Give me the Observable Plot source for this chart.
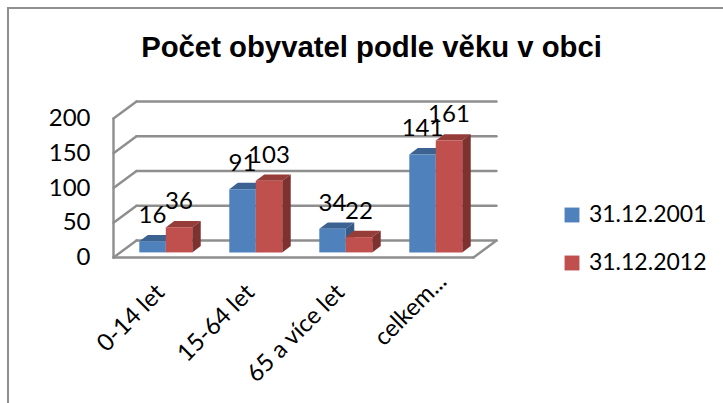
<!DOCTYPE html>
<html>
<head>
<meta charset="utf-8">
<script src="https://cdn.jsdelivr.net/npm/d3@7"></script>
<script src="https://cdn.jsdelivr.net/npm/@observablehq/plot@0.6"></script>
<style>
html,body{margin:0;padding:0;background:#fff;overflow:hidden}
#wrap{position:relative;width:723px;height:403px}
#edge{position:absolute;left:7px;top:7px;width:716px;height:396px;border-left:2px solid #8f8f8f;border-top:2px solid #8f8f8f;box-sizing:border-box}
#wrap svg{position:absolute;left:0;top:0;overflow:visible}
</style>
</head>
<body>
<div id="wrap"><div id="edge"></div></div>
<script>
const chartTitle = "Počet obyvatel podle věku v obci";
const categories = ["0-14 let", "15-64 let", "65 a více let", "celkem..."];
const seriesNames = ["31.12.2001", "31.12.2012"];
const values2001 = [16, 91, 34, 141];
const values2012 = [36, 103, 22, 161];
const yTicks = [0, 50, 100, 150, 200];
const colors = ["#4f81bd", "#c0504d"];
const topColors = ["#3b6291", "#963c39"];
const sideColors = ["#375a85", "#7d3230"];
const gridColor = "#8e8e8e";

// oblique projection, in data units: one unit of depth moves a point this far
const depthX = 23 / 90, depthY = 17 / 0.695;
const project = (c, v, d) => ({x: c + d * depthX, y: v + d * depthY});

const barDepthFront = 0.3, barDepthBack = 0.67;
const barLeft = 0.21, barWidth = 0.294;

const bars = [];
[values2001, values2012].forEach((vals, s) => vals.forEach((v, i) => {
  const x0 = i + barLeft + s * barWidth, x1 = x0 + barWidth;
  bars.push({i, s, v, x0, x1, mid: (x0 + x1) / 2 + barDepthFront * depthX});
}));

const poly = (id, color, pts) => pts.map(p => ({...p, id, color}));
const faces = bars.flatMap((b, k) => {
  const f = barDepthFront, g = barDepthBack;
  return [
    poly("top" + k, topColors[b.s], [project(b.x0, b.v, f), project(b.x1, b.v, f), project(b.x1, b.v, g), project(b.x0, b.v, g)]),
    poly("side" + k, sideColors[b.s], [project(b.x1, 0, f), project(b.x1, b.v, f), project(b.x1, b.v, g), project(b.x1, 0, g)]),
    poly("front" + k, colors[b.s], [project(b.x0, 0, f), project(b.x1, 0, f), project(b.x1, b.v, f), project(b.x0, b.v, f)])
  ];
}).flat();

const n = categories.length, yMax = d3.max(yTicks);
const segs = [];
const seg = (id, a, b) => { segs.push({...a, id}, {...b, id}); };
yTicks.forEach(t => {
  seg("back" + t, project(0, t, 1), project(n, t, 1));
  seg("diag" + t, project(0, t, 0), project(0, t, 1));
});
seg("axisY", project(0, 0, 0), project(0, yMax, 0));
seg("floorFront", project(0, 0, 0), project(n, 0, 0));
seg("floorRight", project(n, 0, 0), project(n, 0, 1));

const frameText = {fontFamily: "Lato", fill: "#000"};
const plot = Plot.plot({
  width: 723, height: 403,
  marginLeft: 113, marginRight: 250, marginTop: 118, marginBottom: 146,
  style: {background: "transparent"},
  x: {domain: [0, n], axis: null},
  y: {domain: [0, yMax], axis: null},
  marks: [
    Plot.line(segs, {x: "x", y: "y", z: "id", stroke: gridColor, strokeWidth: 2.4, curve: "linear"}),
    Plot.line(faces, {x: "x", y: "y", z: "id", fill: "color", stroke: "none", curve: "linear-closed", sort: null}),
    Plot.axisY({ticks: yTicks, tickSize: 0, tickPadding: 23, fontSize: 24, fontFamily: "Lato", color: "#000", label: null}),
    Plot.text(bars, {
      x: d => d.mid, y: "v", text: d => String(d.v), dy: -31,
      fontSize: 24, ...frameText, lineAnchor: "middle"
    }),
    Plot.text(categories.slice(0, 3), {
      x: (d, i) => i + 0.5, y: () => 0, text: d => d, rotate: -45, textAnchor: "end",
      dx: 2, dy: 31, fontSize: 24, ...frameText, lineAnchor: "middle"
    }),
    Plot.text(categories.slice(3), {
      x: () => 3.5, y: () => 0, text: d => d, rotate: -45, textAnchor: "end",
      dx: 14, dy: 20, fontSize: 24, ...frameText, lineAnchor: "middle"
    }),
    Plot.text([chartTitle], {
      frameAnchor: "top-left", dx: 258, dy: -71, text: d => d, textAnchor: "middle",
      fontFamily: "Liberation Sans", fontWeight: "bold", fontSize: 29.3, fill: "#000", lineAnchor: "middle"
    }),
    ...seriesNames.flatMap((name, i) => [
      Plot.dot([name], {
        frameAnchor: "top-right", dx: 98.5, dy: 96.5 + i * 48,
        symbol: "square", r: 8.4, fill: colors[i], stroke: "none"
      }),
      Plot.text([name], {
        frameAnchor: "top-right", dx: 233, dy: 96.5 + i * 48, text: d => d, textAnchor: "end",
        fontSize: 23, ...frameText, lineAnchor: "middle"
      })
    ])
  ]
});
document.getElementById("wrap").appendChild(plot);
</script>
</body>
</html>
